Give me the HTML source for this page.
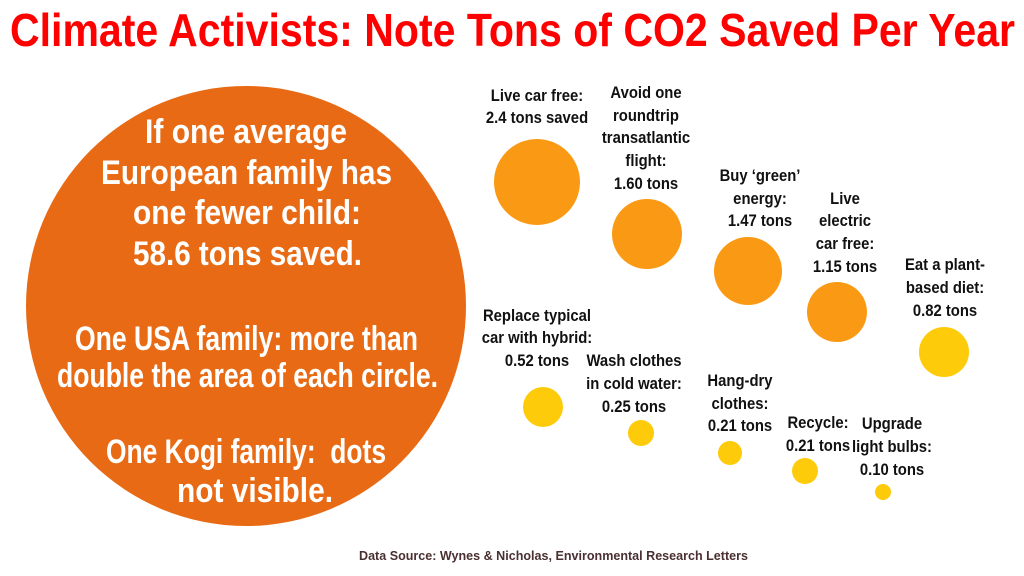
<!DOCTYPE html>
<html><head><meta charset="utf-8"><style>
html,body{margin:0;padding:0;background:#fff;}
svg{display:block;}
text{font-family:"Liberation Sans Narrow","Liberation Sans",sans-serif;font-weight:bold;}
.l{font-size:16.5px;fill:#111;text-anchor:middle;}
.w{font-size:34px;fill:#fff;}
</style></head><body>
<svg width="1024" height="576" viewBox="0 0 1024 576">
<rect width="1024" height="576" fill="#fff"/>
<text x="10" y="46" font-size="46" fill="#f00" textLength="1005" lengthAdjust="spacingAndGlyphs">Climate Activists: Note Tons of CO2 Saved Per Year</text>
<circle cx="246" cy="306" r="220" fill="#E86A14"/>
<text class="w" x="145" y="143" textLength="202" lengthAdjust="spacingAndGlyphs">If one average</text>
<text class="w" x="101" y="184" textLength="291" lengthAdjust="spacingAndGlyphs">European family has</text>
<text class="w" x="133" y="224" textLength="228" lengthAdjust="spacingAndGlyphs">one fewer child:</text>
<text class="w" x="133" y="265" textLength="229" lengthAdjust="spacingAndGlyphs">58.6 tons saved.</text>
<text class="w" x="75" y="350" textLength="343" lengthAdjust="spacingAndGlyphs">One USA family: more than</text>
<text class="w" x="57" y="387" textLength="381" lengthAdjust="spacingAndGlyphs">double the area of each circle.</text>
<text class="w" x="106" y="463" textLength="280" lengthAdjust="spacingAndGlyphs">One Kogi family:&#160; dots</text>
<text class="w" x="177" y="502" textLength="156" lengthAdjust="spacingAndGlyphs">not visible.</text>

<g fill="#FA9A14">
<circle cx="537" cy="182" r="43"/>
<circle cx="647" cy="234" r="35"/>
<circle cx="748" cy="271" r="34"/>
<circle cx="837" cy="312" r="30"/>
</g>
<g fill="#FECB0A">
<circle cx="944" cy="352" r="25"/>
<circle cx="543" cy="407" r="20"/>
<circle cx="641" cy="433" r="13"/>
<circle cx="730" cy="453" r="12"/>
<circle cx="805" cy="471" r="13"/>
<circle cx="883" cy="492" r="8"/>
</g>

<g transform="translate(537,0) scale(0.9,1) translate(-537,0)"><text class="l"><tspan x="537" y="101">Live car free:</tspan><tspan x="537" y="123">2.4 tons saved</tspan></text></g>
<g transform="translate(646,0) scale(0.9,1) translate(-646,0)"><text class="l"><tspan x="646" y="98">Avoid one</tspan><tspan x="646" y="121">roundtrip</tspan><tspan x="646" y="143">transatlantic</tspan><tspan x="646" y="166">flight:</tspan><tspan x="646" y="189">1.60 tons</tspan></text></g>
<g transform="translate(760,0) scale(0.9,1) translate(-760,0)"><text class="l"><tspan x="760" y="181">Buy ‘green’</tspan><tspan x="760" y="204">energy:</tspan><tspan x="760" y="226">1.47 tons</tspan></text></g>
<g transform="translate(845,0) scale(0.9,1) translate(-845,0)"><text class="l"><tspan x="845" y="204">Live</tspan><tspan x="845" y="226">electric</tspan><tspan x="845" y="249">car free:</tspan><tspan x="845" y="272">1.15 tons</tspan></text></g>
<g transform="translate(945,0) scale(0.9,1) translate(-945,0)"><text class="l"><tspan x="945" y="270">Eat a plant-</tspan><tspan x="945" y="293">based diet:</tspan><tspan x="945" y="316">0.82 tons</tspan></text></g>
<g transform="translate(537,0) scale(0.9,1) translate(-537,0)"><text class="l"><tspan x="537" y="321">Replace typical</tspan><tspan x="537" y="343">car with hybrid:</tspan><tspan x="537" y="366">0.52 tons</tspan></text></g>
<g transform="translate(634,0) scale(0.9,1) translate(-634,0)"><text class="l"><tspan x="634" y="366">Wash clothes</tspan><tspan x="634" y="389">in cold water:</tspan><tspan x="634" y="412">0.25 tons</tspan></text></g>
<g transform="translate(740,0) scale(0.9,1) translate(-740,0)"><text class="l"><tspan x="740" y="386">Hang-dry</tspan><tspan x="740" y="409">clothes:</tspan><tspan x="740" y="431">0.21 tons</tspan></text></g>
<g transform="translate(818,0) scale(0.9,1) translate(-818,0)"><text class="l"><tspan x="818" y="428">Recycle:</tspan><tspan x="818" y="451">0.21 tons</tspan></text></g>
<g transform="translate(892,0) scale(0.9,1) translate(-892,0)"><text class="l"><tspan x="892" y="429">Upgrade</tspan><tspan x="892" y="452">light bulbs:</tspan><tspan x="892" y="475">0.10 tons</tspan></text></g>

<text x="359" y="560" font-size="13" fill="#4a3030" textLength="389" lengthAdjust="spacingAndGlyphs">Data Source: Wynes &amp; Nicholas, Environmental Research Letters</text>
</svg>
</body></html>
